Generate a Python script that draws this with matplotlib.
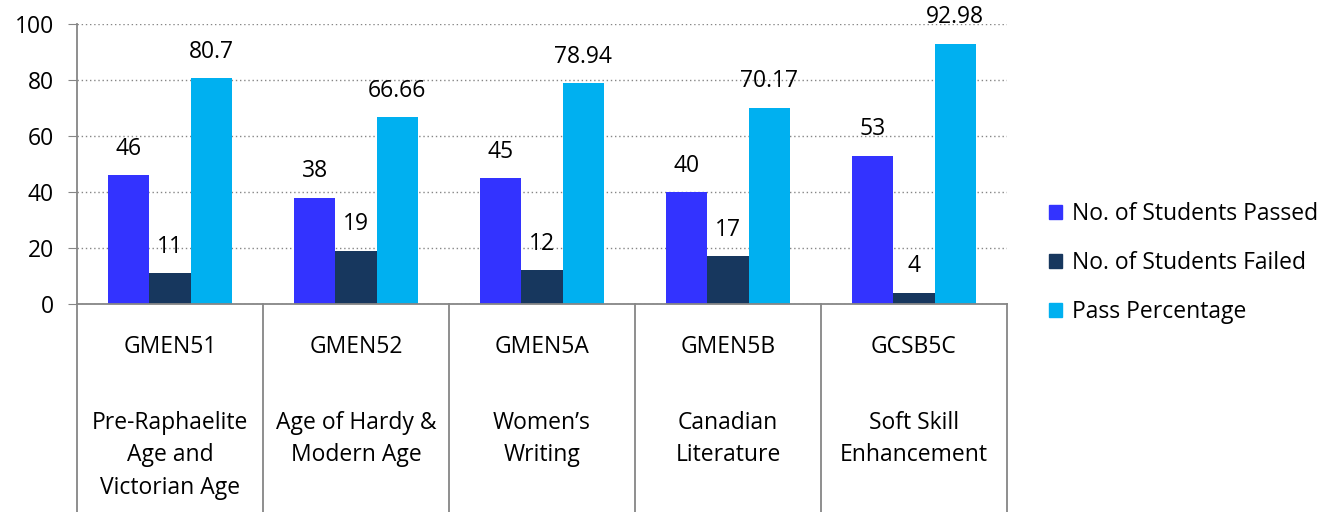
import matplotlib.pyplot as plt
from matplotlib.patches import Patch
import numpy as np

codes = ["GMEN51", "GMEN52", "GMEN5A", "GMEN5B", "GCSB5C"]
subjects = ["Pre-Raphaelite\nAge and\nVictorian Age", "Age of Hardy &\nModern Age",
            "Women\u2019s\nWriting", "Canadian\nLiterature", "Soft Skill\nEnhancement"]
passed = [46, 38, 45, 40, 53]
failed = [11, 19, 12, 17, 4]
pass_pct = [80.7, 66.66, 78.94, 70.17, 92.98]
pct_labels = ["80.7", "66.66", "78.94", "70.17", "92.98"]
series_names = ["No. of Students Passed", "No. of Students Failed", "Pass Percentage"]
colors = ["#3333FF", "#17375E", "#00B0F0"]

plt.rcParams['font.family'] = ['Open Sans', 'DejaVu Sans']
FS = 16.5
W, H = 1333, 512
fig = plt.figure(figsize=(W / 100, H / 100), dpi=100)
ax = fig.add_axes([77 / W, (H - 304) / H, (1007 - 77) / W, (304 - 24) / H])

x = np.arange(len(codes))
w = 0.222
series = [passed, failed, pass_pct]
for i, (vals, c) in enumerate(zip(series, colors)):
    bars = ax.bar(x + (i - 1) * w, vals, w, color=c, zorder=3)
    labels = pct_labels if i == 2 else [str(v) for v in vals]
    for b, lab in zip(bars, labels):
        ax.annotate(lab, (b.get_x() + b.get_width() / 2, b.get_height()),
                    xytext=(0, 19), textcoords='offset points',
                    ha='center', va='center', fontsize=FS, zorder=4)

ax.set_xlim(-0.5, len(codes) - 0.5)
ax.set_ylim(0, 100)
ax.set_yticks(range(0, 101, 20))
ax.tick_params(axis='y', length=6.5, color='#868686', labelsize=FS, pad=10)
ax.set_xticks([])
ax.grid(axis='y', linestyle=(0, (1, 2)), color='#868686', linewidth=1, zorder=0)
for s in ['top', 'right', 'bottom']:
    ax.spines[s].set_visible(False)
ax.spines['left'].set_color('#868686')
ax.spines['left'].set_linewidth(1.3)
ax.axhline(0, color='#868686', linewidth=1.3, zorder=5, clip_on=False)

# category table below the axis
tr = ax.get_xaxis_transform()
depth = -(512 - 304) / (304 - 24)
for b in np.arange(len(codes) + 1) - 0.5:
    ax.plot([b, b], [0, depth], transform=tr, color='#868686', lw=1.3, clip_on=False)
for i, (code, subj) in enumerate(zip(codes, subjects)):
    ax.text(i, -(347 - 304) / 280, code, transform=tr, ha='center', va='center', fontsize=FS)
    ax.text(i, -(411 - 304) / 280, subj, transform=tr, ha='center', va='top',
            fontsize=FS, linespacing=1.46)

handles = [Patch(color=c) for c in colors]
fig.legend(handles, series_names, loc='center left', bbox_to_anchor=(1049 / W, 1 - 263 / H),
           frameon=False, fontsize=FS, handlelength=0.57, handleheight=0.57, borderpad=0,
           borderaxespad=0, handletextpad=0.44, labelspacing=1.08)

fig.savefig('out.png', dpi=100)
